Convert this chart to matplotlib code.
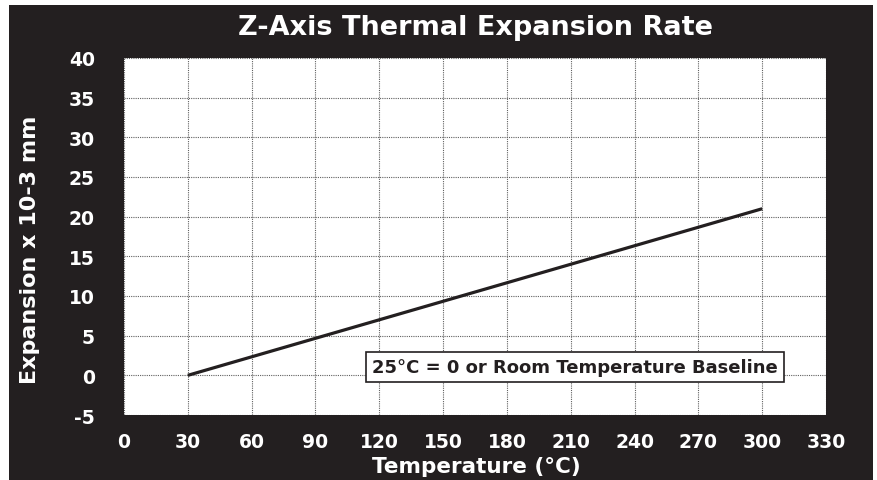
import matplotlib
matplotlib.use("Agg")
import matplotlib.pyplot as plt
from matplotlib.patches import Rectangle

# data
temps = [30, 300]
expansion = [0, 21]
x_ticks = [0, 30, 60, 90, 120, 150, 180, 210, 240, 270, 300, 330]
y_ticks = [-5, 0, 5, 10, 15, 20, 25, 30, 35, 40]
note = "25°C = 0 or Room Temperature Baseline"

DARK = '#231f20'
plt.rcParams['font.family'] = ['DejaVu Sans']
plt.rcParams['font.weight'] = 'bold'
plt.rcParams['axes.unicode_minus'] = False

fig = plt.figure(figsize=(8.78, 4.81), dpi=100, facecolor='white')
# dark backdrop with thin white margin
fig.patches.append(Rectangle((9 / 878, 0), 864 / 878, 475 / 481,
                             transform=fig.transFigure, facecolor=DARK,
                             edgecolor='none', zorder=-10))

ax = fig.add_axes([124 / 878, 1 - 416 / 481, 702 / 878, 357 / 481])
ax.set_facecolor('white')
ax.plot(temps, expansion, color=DARK, lw=2.3, solid_capstyle='butt', zorder=3)

ax.set_xlim(0, 330)
ax.set_ylim(-5, 40)
ax.set_xticks(x_ticks)
ax.set_yticks(y_ticks)
ax.grid(True, color='#606060', lw=0.8, ls=(0, (1, 1)))
ax.set_axisbelow(True)
for s in ax.spines.values():
    s.set_visible(False)
ax.tick_params(length=0, colors='white', labelsize=13.5)
ax.tick_params(axis='y', pad=21)
ax.tick_params(axis='x', pad=12)

ax.text(212, 1, note, ha='center', va='center', fontsize=13,
        fontweight='bold', color=DARK, zorder=4,
        bbox=dict(boxstyle='square,pad=0.33', facecolor='white',
                  edgecolor=DARK, lw=1.2))

fig.text(476 / 878, 1 - 28 / 481, 'Z-Axis Thermal Expansion Rate',
         ha='center', va='center', color='white', fontsize=19.5,
         fontweight='bold')
fig.text(476 / 878, 1 - 467 / 481, 'Temperature (°C)', ha='center',
         va='center', color='white', fontsize=15.5, fontweight='bold')
fig.text(30 / 878, 1 - 250 / 481, 'Expansion x 10-3 mm', ha='center',
         va='center', rotation=90, color='white', fontsize=16,
         fontweight='bold')

fig.savefig('out.png', dpi=100, facecolor='white')
